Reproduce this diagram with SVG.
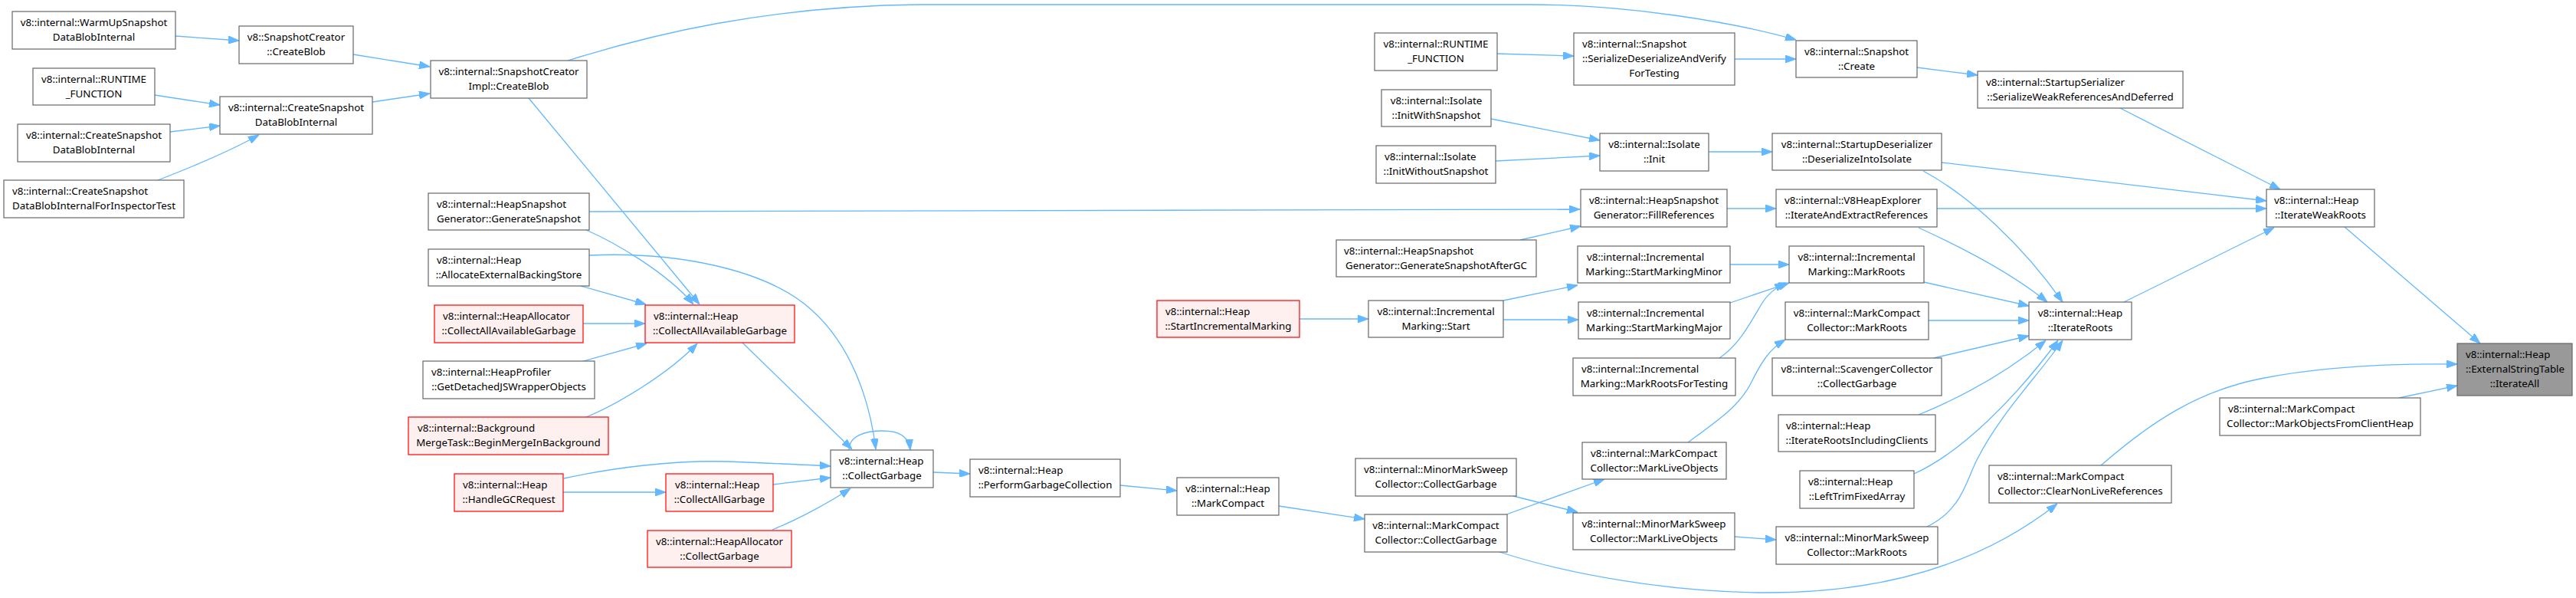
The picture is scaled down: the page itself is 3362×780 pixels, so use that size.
<svg xmlns="http://www.w3.org/2000/svg" width="3362" height="780" viewBox="0 0 3362 780">
<style>
.node rect{fill:#ffffff;stroke:#666666;stroke-width:1.2}
.red rect{fill:#fff0f0;stroke:#ff0000}
.root rect{fill:#999999;stroke:#666666}
text{font-family:"Noto Sans","DejaVu Sans",sans-serif;font-size:13.33px;fill:#000000}
.c{text-anchor:middle}
.edges path{fill:none;stroke:#63b8ff;stroke-width:1.3;marker-end:url(#arr)}
</style>
<defs>
<marker id="arr" markerUnits="userSpaceOnUse" markerWidth="14" markerHeight="10" refX="14" refY="5" orient="auto"><path d="M0,0 L14,5 L0,10 z" fill="#63b8ff" stroke="#63b8ff" stroke-width="1"/></marker>
</defs>
<rect x="0" y="0" width="3362" height="780" fill="#ffffff"/>
<g class="edges" id="edges">
<path d="M229,47 L312,53"/>
<path d="M461,71 L561,87"/>
<path d="M486,133 L561,122"/>
<path d="M202,124 L287,137"/>
<path d="M222,172 L287,164"/>
<path d="M206,235 C250,218 300,197 338,176"/>
<path d="M741,79 C850,45 1000,8 1200,6 L2000,6 C2120,6 2260,28 2344,52"/>
<path d="M690,128 L913,397"/>
<path d="M765,300 C800,315 870,355 905,397"/>
<path d="M769,276 L2062,273"/>
<path d="M769,333 C880,328 1000,350 1060,405 C1110,450 1135,520 1143,586"/>
<path d="M758,373 L843,397"/>
<path d="M761,422 L842,422"/>
<path d="M758,472 L844,448"/>
<path d="M765,544 C800,530 870,490 910,448"/>
<path d="M969,447 L1112,586"/>
<path d="M735,642 L869,642"/>
<path d="M736,624 C800,610 880,600 950,602 C1000,604 1050,606 1084,608"/>
<path d="M1009,632 L1084,623"/>
<path d="M1008,691 C1040,678 1080,657 1110,637"/>
<path d="M1108,587 C1108,568 1130,562 1152,562 C1172,562 1186,568 1188,587"/>
<path d="M1218,616 L1266,618"/>
<path d="M1462,633 L1536,640"/>
<path d="M1669,660 L1781,677"/>
<path d="M1696,416 L1786,416"/>
<path d="M1962,417 L2060,417"/>
<path d="M1962,392 L2059,372"/>
<path d="M1975,647 L2059,668"/>
<path d="M1966,671 L2094,625"/>
<path d="M1957,720 C2050,750 2180,772 2300,773 C2450,774 2580,740 2685,657"/>
<path d="M2742,607 C2810,548 2870,510 2950,494 C3030,478 3120,474 3207,475"/>
<path d="M3131,519 L3207,503"/>
<path d="M3060,296 L3237,448"/>
<path d="M2772,394 L2968,297"/>
<path d="M2528,272 L2958,272"/>
<path d="M2534,212 L2958,262"/>
<path d="M2767,141 L2976,247"/>
<path d="M2502,88 L2581,98"/>
<path d="M2264,77 L2344,77"/>
<path d="M1954,70 L2054,73"/>
<path d="M1946,155 L2088,183"/>
<path d="M1952,210 L2088,203"/>
<path d="M2230,198 L2313,198"/>
<path d="M2254,272 L2318,272"/>
<path d="M1984,313 L2063,295"/>
<path d="M2510,223 C2570,255 2640,320 2692,394"/>
<path d="M2504,297 C2570,327 2630,360 2672,394"/>
<path d="M2511,368 L2648,399"/>
<path d="M2517,418 L2648,418"/>
<path d="M2524,467 L2648,438"/>
<path d="M2504,541 C2560,518 2620,485 2670,444"/>
<path d="M2498,618 C2560,590 2630,520 2686,444"/>
<path d="M2515,687 C2560,665 2565,630 2580,600 C2610,540 2660,490 2692,444"/>
<path d="M2264,700 L2318,704"/>
<path d="M2258,345 L2335,345"/>
<path d="M2258,395 L2335,369"/>
<path d="M2244,467 C2270,450 2285,420 2300,395 C2308,382 2318,375 2330,369"/>
<path d="M2203,577 C2240,550 2270,530 2285,500 C2300,470 2310,455 2330,443"/>
</g>
<g id="n_warmup" class="node"><rect x="16" y="15" width="213" height="49"/><text class="c" x="122.5" y="34">v8::internal::WarmUpSnapshot</text><text class="c" x="122.5" y="53">DataBlobInternal</text></g>
<g id="n_sc_createblob" class="node"><rect x="312" y="34" width="149" height="49"/><text class="c" x="386.5" y="53">v8::SnapshotCreator</text><text class="c" x="386.5" y="72">::CreateBlob</text></g>
<g id="n_runtime1" class="node"><rect x="43" y="89" width="159" height="48"/><text class="c" x="122.5" y="108">v8::internal::RUNTIME</text><text class="c" x="122.5" y="127">_FUNCTION</text></g>
<g id="n_csdbi_r" class="node"><rect x="287" y="126" width="199" height="49"/><text class="c" x="386.5" y="145">v8::internal::CreateSnapshot</text><text class="c" x="386.5" y="164">DataBlobInternal</text></g>
<g id="n_csdbi_l" class="node"><rect x="23" y="162" width="199" height="49"/><text class="c" x="122.5" y="181">v8::internal::CreateSnapshot</text><text class="c" x="122.5" y="200">DataBlobInternal</text></g>
<g id="n_inspector" class="node"><rect x="5" y="235" width="235" height="49"/><text x="16" y="254">v8::internal::CreateSnapshot</text><text class="c" x="122.5" y="273">DataBlobInternalForInspectorTest</text></g>
<g id="n_impl" class="node"><rect x="562" y="79" width="204" height="49"/><text class="c" x="664" y="98">v8::internal::SnapshotCreator</text><text class="c" x="664" y="117">Impl::CreateBlob</text></g>
<g id="n_gensnap" class="node"><rect x="559" y="252" width="210" height="48"/><text x="570" y="271">v8::internal::HeapSnapshot</text><text class="c" x="664" y="290">Generator::GenerateSnapshot</text></g>
<g id="n_allocebs" class="node"><rect x="559" y="325" width="210" height="48"/><text x="570" y="344">v8::internal::Heap</text><text class="c" x="664" y="363">::AllocateExternalBackingStore</text></g>
<g id="n_ha_caag" class="node red"><rect x="567" y="398" width="194" height="49"/><text x="578" y="417">v8::internal::HeapAllocator</text><text class="c" x="664" y="436">::CollectAllAvailableGarbage</text></g>
<g id="n_heapprofiler" class="node"><rect x="552" y="471" width="224" height="49"/><text x="563" y="490">v8::internal::HeapProfiler</text><text class="c" x="664" y="509">::GetDetachedJSWrapperObjects</text></g>
<g id="n_background" class="node red"><rect x="533" y="544" width="261" height="49"/><text x="545" y="563">v8::internal::Background</text><text class="c" x="663.5" y="582">MergeTask::BeginMergeInBackground</text></g>
<g id="n_handlegc" class="node red"><rect x="593" y="618" width="142" height="49"/><text x="604" y="637">v8::internal::Heap</text><text class="c" x="664" y="656">::HandleGCRequest</text></g>
<g id="n_caag" class="node red"><rect x="842" y="398" width="195" height="49"/><text x="853" y="417">v8::internal::Heap</text><text class="c" x="939.5" y="436">::CollectAllAvailableGarbage</text></g>
<g id="n_collectallgarbage" class="node red"><rect x="869" y="618" width="140" height="49"/><text x="881" y="637">v8::internal::Heap</text><text class="c" x="939" y="656">::CollectAllGarbage</text></g>
<g id="n_ha_cg" class="node red"><rect x="845" y="692" width="188" height="48"/><text class="c" x="939" y="711">v8::internal::HeapAllocator</text><text class="c" x="939" y="730">::CollectGarbage</text></g>
<g id="n_collectgarbage" class="node"><rect x="1084" y="587" width="134" height="49"/><text x="1095" y="606">v8::internal::Heap</text><text class="c" x="1151" y="625">::CollectGarbage</text></g>
<g id="n_performgc" class="node"><rect x="1266" y="599" width="196" height="49"/><text x="1277" y="618">v8::internal::Heap</text><text class="c" x="1364" y="637">::PerformGarbageCollection</text></g>
<g id="n_markcompact" class="node"><rect x="1536" y="623" width="133" height="49"/><text class="c" x="1602.5" y="642">v8::internal::Heap</text><text class="c" x="1602.5" y="661">::MarkCompact</text></g>
<g id="n_startincr" class="node red"><rect x="1510" y="392" width="186" height="48"/><text x="1521" y="411">v8::internal::Heap</text><text class="c" x="1603" y="430">::StartIncrementalMarking</text></g>
<g id="n_runtime2" class="node"><rect x="1794" y="43" width="160" height="49"/><text class="c" x="1874" y="62">v8::internal::RUNTIME</text><text class="c" x="1874" y="81">_FUNCTION</text></g>
<g id="n_initwith" class="node"><rect x="1803" y="117" width="143" height="48"/><text class="c" x="1874.5" y="136">v8::internal::Isolate</text><text class="c" x="1874.5" y="155">::InitWithSnapshot</text></g>
<g id="n_initwithout" class="node"><rect x="1796" y="190" width="156" height="49"/><text x="1807" y="209">v8::internal::Isolate</text><text class="c" x="1874" y="228">::InitWithoutSnapshot</text></g>
<g id="n_aftergc" class="node"><rect x="1744" y="313" width="261" height="48"/><text x="1754" y="332">v8::internal::HeapSnapshot</text><text class="c" x="1874.5" y="351">Generator::GenerateSnapshotAfterGC</text></g>
<g id="n_start" class="node"><rect x="1786" y="392" width="176" height="48"/><text class="c" x="1874" y="411">v8::internal::Incremental</text><text class="c" x="1874" y="430">Marking::Start</text></g>
<g id="n_minor_cg" class="node"><rect x="1769" y="598" width="210" height="49"/><text class="c" x="1874" y="617">v8::internal::MinorMarkSweep</text><text class="c" x="1874" y="636">Collector::CollectGarbage</text></g>
<g id="n_mcc_cg" class="node"><rect x="1781" y="671" width="186" height="49"/><text class="c" x="1874" y="690">v8::internal::MarkCompact</text><text class="c" x="1874" y="709">Collector::CollectGarbage</text></g>
<g id="n_serdeser" class="node"><rect x="2054" y="43" width="210" height="68"/><text x="2065" y="62">v8::internal::Snapshot</text><text x="2065" y="81">::SerializeDeserializeAndVerify</text><text class="c" x="2159" y="100">ForTesting</text></g>
<g id="n_init" class="node"><rect x="2088" y="174" width="142" height="49"/><text class="c" x="2159" y="193">v8::internal::Isolate</text><text class="c" x="2159" y="212">::Init</text></g>
<g id="n_fillrefs" class="node"><rect x="2063" y="247" width="191" height="49"/><text class="c" x="2158.5" y="266">v8::internal::HeapSnapshot</text><text class="c" x="2158.5" y="285">Generator::FillReferences</text></g>
<g id="n_startminor" class="node"><rect x="2059" y="321" width="199" height="48"/><text x="2071" y="340">v8::internal::Incremental</text><text class="c" x="2158.5" y="359">Marking::StartMarkingMinor</text></g>
<g id="n_startmajor" class="node"><rect x="2060" y="394" width="198" height="48"/><text x="2071" y="413">v8::internal::Incremental</text><text class="c" x="2159" y="432">Marking::StartMarkingMajor</text></g>
<g id="n_markrootstesting" class="node"><rect x="2053" y="467" width="212" height="49"/><text x="2064" y="486">v8::internal::Incremental</text><text class="c" x="2159" y="505">Marking::MarkRootsForTesting</text></g>
<g id="n_mcc_mlo" class="node"><rect x="2065" y="577" width="188" height="48"/><text x="2076" y="596">v8::internal::MarkCompact</text><text class="c" x="2159" y="615">Collector::MarkLiveObjects</text></g>
<g id="n_minor_mlo" class="node"><rect x="2053" y="669" width="211" height="48"/><text class="c" x="2158.5" y="688">v8::internal::MinorMarkSweep</text><text class="c" x="2158.5" y="707">Collector::MarkLiveObjects</text></g>
<g id="n_create" class="node"><rect x="2344" y="53" width="158" height="48"/><text class="c" x="2423" y="72">v8::internal::Snapshot</text><text class="c" x="2423" y="91">::Create</text></g>
<g id="n_deser" class="node"><rect x="2313" y="174" width="221" height="48"/><text class="c" x="2423.5" y="193">v8::internal::StartupDeserializer</text><text class="c" x="2423.5" y="212">::DeserializeIntoIsolate</text></g>
<g id="n_v8he" class="node"><rect x="2318" y="247" width="210" height="49"/><text x="2329" y="266">v8::internal::V8HeapExplorer</text><text class="c" x="2423" y="285">::IterateAndExtractReferences</text></g>
<g id="n_im_markroots" class="node"><rect x="2335" y="321" width="176" height="48"/><text class="c" x="2423" y="340">v8::internal::Incremental</text><text class="c" x="2423" y="359">Marking::MarkRoots</text></g>
<g id="n_mcc_markroots" class="node"><rect x="2330" y="394" width="187" height="49"/><text class="c" x="2423.5" y="413">v8::internal::MarkCompact</text><text class="c" x="2423.5" y="432">Collector::MarkRoots</text></g>
<g id="n_scavenger" class="node"><rect x="2313" y="467" width="221" height="49"/><text class="c" x="2423.5" y="486">v8::internal::ScavengerCollector</text><text class="c" x="2423.5" y="505">::CollectGarbage</text></g>
<g id="n_iric" class="node"><rect x="2321" y="541" width="205" height="48"/><text x="2331" y="560">v8::internal::Heap</text><text class="c" x="2423.5" y="579">::IterateRootsIncludingClients</text></g>
<g id="n_lefttrim" class="node"><rect x="2349" y="614" width="149" height="49"/><text x="2360" y="633">v8::internal::Heap</text><text class="c" x="2423.5" y="652">::LeftTrimFixedArray</text></g>
<g id="n_minor_markroots" class="node"><rect x="2318" y="687" width="211" height="49"/><text class="c" x="2423.5" y="706">v8::internal::MinorMarkSweep</text><text class="c" x="2423.5" y="725">Collector::MarkRoots</text></g>
<g id="n_startupser" class="node"><rect x="2581" y="93" width="268" height="48"/><text x="2592" y="112">v8::internal::StartupSerializer</text><text class="c" x="2715" y="131">::SerializeWeakReferencesAndDeferred</text></g>
<g id="n_iterroots" class="node"><rect x="2648" y="394" width="134" height="49"/><text class="c" x="2715" y="413">v8::internal::Heap</text><text class="c" x="2715" y="432">::IterateRoots</text></g>
<g id="n_clearnonlive" class="node"><rect x="2596" y="607" width="238" height="49"/><text x="2607" y="626">v8::internal::MarkCompact</text><text class="c" x="2715" y="645">Collector::ClearNonLiveReferences</text></g>
<g id="n_iterweak" class="node"><rect x="2958" y="247" width="141" height="49"/><text x="2968" y="266">v8::internal::Heap</text><text class="c" x="3028.5" y="285">::IterateWeakRoots</text></g>
<g id="n_mofch" class="node"><rect x="2897" y="519" width="262" height="49"/><text x="2908" y="538">v8::internal::MarkCompact</text><text class="c" x="3028" y="557">Collector::MarkObjectsFromClientHeap</text></g>
<g id="n_est" class="node root"><rect x="3207" y="448" width="150" height="68"/><text x="3218" y="467">v8::internal::Heap</text><text x="3218" y="486">::ExternalStringTable</text><text class="c" x="3282" y="505">::IterateAll</text></g>
</svg>
